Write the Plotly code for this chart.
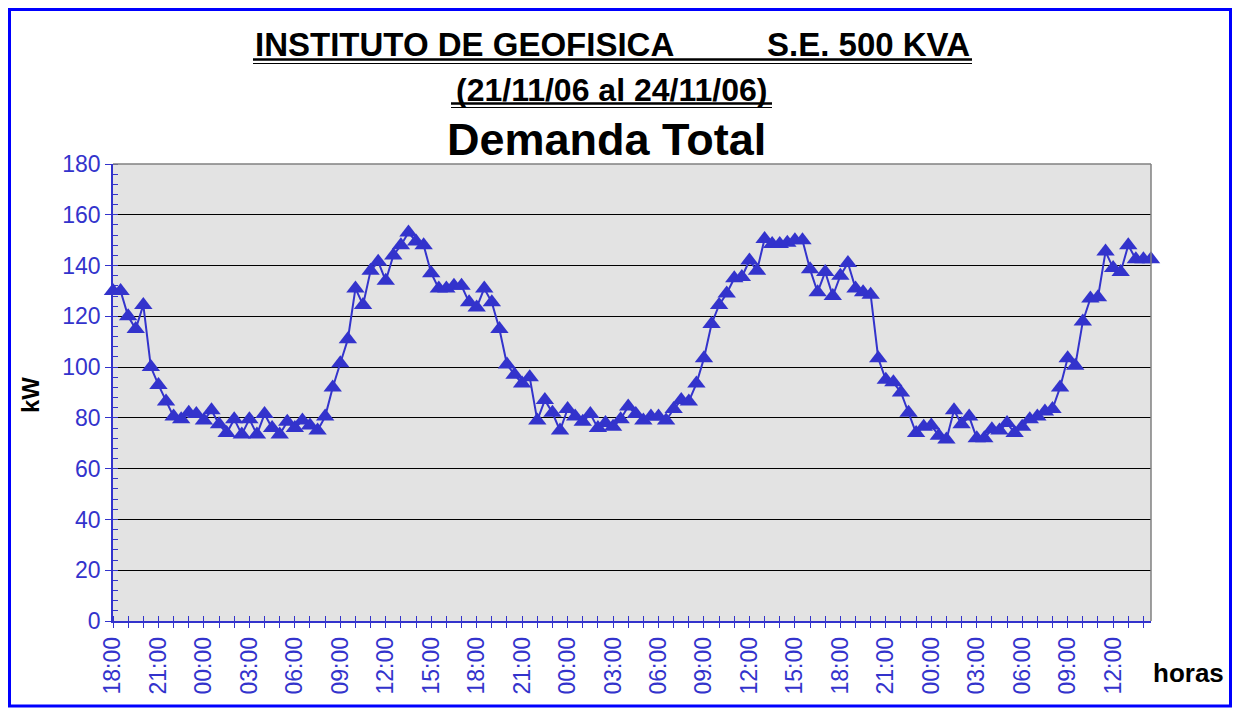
import plotly.graph_objects as go

# ---- data (half-hourly total demand, kW) ----
demanda_kw = [
    130, 130, 120, 115, 124.5, 100, 93, 86.5, 80.5, 79.5,
    82, 81.5, 79, 83, 77.5, 74, 79.5, 73.5, 79.5, 73.5,
    81.5, 76, 73.5, 78.5, 76, 79, 77, 75, 80.5, 92,
    101.5, 111, 131, 124.5, 138, 141.5, 134, 144, 148, 153,
    149.5, 148, 137, 131, 131, 132, 132, 125.5, 123.5, 131,
    125.5, 115, 101, 97, 93.5, 96, 79, 87, 82, 75,
    83.5, 80.5, 78.5, 81.5, 76, 78, 76.5, 79.5, 84.5, 81.5,
    79, 80.5, 80.5, 79, 83.5, 87, 86.5, 93.5, 103.5, 117,
    124.5, 129, 135, 135.5, 142, 138, 150.5, 148.5, 148.5, 149,
    150, 150, 138.5, 129.5, 137.5, 128, 136, 141, 131, 129.5,
    128.5, 103.5, 95, 94, 90, 82, 74, 76.5, 77, 73,
    71.5, 83, 77.5, 80.5, 72, 72, 75.5, 75, 78, 74,
    76.5, 79.5, 80.5, 82.5, 83.5, 92, 103.5, 100.5, 118, 127,
    127.5, 145.5, 139, 137.5, 148, 142.5, 142.5, 142.5,
]
tick_labels = [
    "18:00", "21:00", "00:00", "03:00", "06:00", "09:00", "12:00", "15:00",
    "18:00", "21:00", "00:00", "03:00", "06:00", "09:00", "12:00", "15:00",
    "18:00", "21:00", "00:00", "03:00", "06:00", "09:00", "12:00",
]
samples_per_label = 6   # 3 h of 30-min samples
samples_per_tick = 2    # 1 h

W, H = 1238, 711
L, R, T, B = 113, 1151, 164, 621


def px(x):
    return (x - L) / (R - L)


def py(y):
    return (B - y) / (B - T)


BLUE = "#3333CC"
FONT = "Arial, Liberation Sans, sans-serif"

x = list(range(len(demanda_kw)))
tickvals = list(range(0, len(demanda_kw), samples_per_tick))
ticktext = [tick_labels[i // samples_per_label] if i % samples_per_label == 0 else "" for i in tickvals]

fig = go.Figure(
    go.Scatter(
        x=x, y=demanda_kw, mode="lines+markers",
        line=dict(color=BLUE, width=2),
        marker=dict(symbol="triangle-up", size=16, color=BLUE),
        cliponaxis=False,
    )
)

fig.update_layout(
    width=W, height=H,
    margin=dict(l=L, r=W - R, t=T, b=H - B),
    paper_bgcolor="white", plot_bgcolor="#E3E3E3",
    showlegend=False,
    font=dict(family=FONT, color=BLUE),
)

fig.update_xaxes(
    range=[0, len(demanda_kw) - 1],
    tickmode="array", tickvals=tickvals, ticktext=ticktext,
    tickangle=-90, ticks="outside", ticklen=5, tickcolor=BLUE, tickwidth=1,
    tickfont=dict(size=23, color=BLUE, family=FONT),
    showgrid=False, zeroline=False,
    showline=True, linecolor=BLUE, linewidth=1.5,
    minor=dict(tickmode="linear", tick0=0, dtick=samples_per_tick, ticks="inside",
               ticklen=5, tickcolor=BLUE, tickwidth=1, showgrid=False),
)

fig.update_yaxes(
    range=[0, 180], tickmode="linear", tick0=0, dtick=20,
    ticks="outside", ticklen=6, tickcolor=BLUE, tickwidth=1,
    tickfont=dict(size=23, color=BLUE, family=FONT),
    showgrid=True, gridcolor="black", gridwidth=1,
    zeroline=False, showline=True, linecolor=BLUE, linewidth=1.5,
    minor=dict(tickmode="linear", tick0=0, dtick=4, ticks="inside",
               ticklen=5, tickcolor=BLUE, tickwidth=1, showgrid=False),
)

shapes = [
    # plot area top / right border
    dict(type="line", xref="paper", yref="paper", x0=0, x1=1, y0=1, y1=1,
         line=dict(color="#808080", width=1.5)),
    dict(type="line", xref="paper", yref="paper", x0=1, x1=1, y0=0, y1=1,
         line=dict(color="#808080", width=1.5)),
    # outer chart border
    dict(type="rect", xref="paper", yref="paper",
         x0=px(9.5), x1=px(1230.5), y0=py(706), y1=py(9.5),
         line=dict(color="#0000FF", width=3)),
    # double underlines of title lines
    dict(type="line", xref="paper", yref="paper", x0=px(253), x1=px(972), y0=py(59.5), y1=py(59.5),
         line=dict(color="black", width=2.5)),
    dict(type="line", xref="paper", yref="paper", x0=px(253), x1=px(972), y0=py(63.5), y1=py(63.5),
         line=dict(color="black", width=1.2)),
    dict(type="line", xref="paper", yref="paper", x0=px(451), x1=px(772), y0=py(103.5), y1=py(103.5),
         line=dict(color="black", width=2.5)),
    dict(type="line", xref="paper", yref="paper", x0=px(451), x1=px(772), y0=py(107.5), y1=py(107.5),
         line=dict(color="black", width=1.2)),
]

annotations = [
    dict(text="<b>INSTITUTO DE GEOFISICA</b>", x=px(253), y=py(45), xanchor="left", yanchor="middle",
         font=dict(size=33, color="black", family=FONT)),
    dict(text="<b>S.E. 500 KVA</b>", x=px(972), y=py(45), xanchor="right", yanchor="middle",
         font=dict(size=33, color="black", family=FONT)),
    dict(text="<b>(21/11/06 al 24/11/06)</b>", x=px(611.5), y=py(90), xanchor="center", yanchor="middle",
         font=dict(size=32, color="black", family=FONT)),
    dict(text="<b>Demanda Total</b>", x=px(606), y=py(140), xanchor="center", yanchor="middle",
         font=dict(size=45, color="black", family=FONT)),
    dict(text="<b>kW</b>", x=px(30), y=py(395), xanchor="center", yanchor="middle", textangle=-90,
         font=dict(size=24, color="black", family=FONT)),
    dict(text="<b>horas</b>", x=px(1189), y=py(673), xanchor="center", yanchor="middle",
         font=dict(size=26, color="black", family=FONT)),
]
for a in annotations:
    a.update(xref="paper", yref="paper", showarrow=False)

fig.update_layout(shapes=shapes, annotations=annotations)

fig.write_html("out.html", config={"displayModeBar": False},
               post_script="document.body.style.margin='0px';")
